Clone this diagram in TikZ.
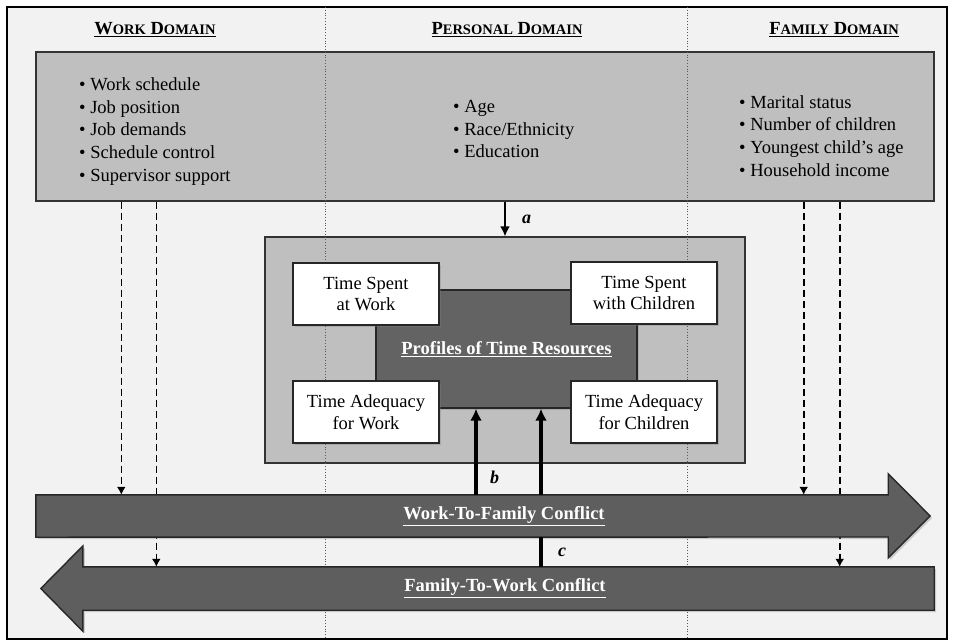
\documentclass[tikz,border=0pt]{standalone}
\usepackage{fontspec}
\setmainfont{Liberation Serif}
\usetikzlibrary{arrows.meta,shadows}

\newcommand{\domainhead}[4]{\textbf{\underline{#1{\fontsize{14.5}{14.5}\selectfont #2} #3{\fontsize{14.5}{14.5}\selectfont #4}}}}

\begin{document}
\begin{tikzpicture}[x=1pt,y=-1pt,
    every node/.style={font=\fontsize{18.5}{21.5}\selectfont},
    greybox/.style={draw=black!80, line width=1.4pt, fill=black!25},
    corebox/.style={draw=black!85, line width=1.4pt, fill=black!61, text=white,
                    drop shadow={opacity=0.35, shadow xshift=2pt, shadow yshift=-2pt}},
    timebox/.style={draw=black!85, line width=1.4pt, fill=white, align=center,
                    minimum width=146pt, minimum height=62pt,
                    drop shadow={opacity=0.35, shadow xshift=2pt, shadow yshift=-2pt}},
    factlist/.style={anchor=west, align=left, inner sep=0pt, font=\fontsize{18.5}{22.7}\selectfont},
    barbody/.style={inner sep=0pt},
    bararrow/.style={draw=black!85, line width=1.4pt, fill=black!63,
                     drop shadow={opacity=0.35, shadow xshift=2pt, shadow yshift=-2pt}},
    barlabel/.style={text=white, font=\fontsize{18.5}{21.5}\selectfont\bfseries},
    letter/.style={font=\fontsize{18}{18}\selectfont\bfseries\itshape},
    dashlink/.style={line width=1.6pt, dash pattern=on 7pt off 4pt, -{Latex[length=8pt,width=9pt]}},
    thinlink/.style={line width=1.6pt, -{Latex[length=10pt,width=10pt]}},
    thicklink/.style={line width=3.6pt, -{Latex[length=12pt,width=12pt]}},
    thickline/.style={line width=3.6pt}]

    \useasboundingbox (0,0) rectangle (953,640);
    \draw[line width=1.6pt, fill=black!5] (7,7) rectangle (947,639);

    \node[greybox, minimum width=898pt, minimum height=149pt] (domains) at (485,126.5) {};
    \node[greybox, minimum width=480pt, minimum height=226pt] (profiles) at (505,350) {};

    \draw[dotted, black!65, line width=0.8pt] (325,7) -- (325,639);
    \draw[dotted, black!65, line width=0.8pt] (687,7) -- (687,639);

    \node (workhead) at (155,30) {\domainhead{W}{ORK}{D}{OMAIN}};
    \node (personalhead) at (507,30) {\domainhead{P}{ERSONAL}{D}{OMAIN}};
    \node (familyhead) at (834,30) {\domainhead{F}{AMILY}{D}{OMAIN}};

    \node[factlist] (workfacts) at (79,131.5)
        {\textbullet\ Work schedule\\\textbullet\ Job position\\\textbullet\ Job demands\\
         \textbullet\ Schedule control\\\textbullet\ Supervisor support};
    \node[factlist] (personalfacts) at (453,129)
        {\textbullet\ Age\\\textbullet\ Race/Ethnicity\\\textbullet\ Education};
    \node[factlist] (familyfacts) at (739,136)
        {\textbullet\ Marital status\\\textbullet\ Number of children\\
         \textbullet\ Youngest child’s age\\\textbullet\ Household income};

    \node[corebox, minimum width=261pt, minimum height=118pt] (core) at (506.5,349)
        {\textbf{\underline{Profiles of Time Resources}}};

    \node[timebox] (spentwork) at (366,294) {Time Spent\\at Work};
    \node[timebox] (spentkids) at (644,293) {Time Spent\\with Children};
    \node[timebox] (adequacywork) at (366,412) {Time Adequacy\\for Work};
    \node[timebox] (adequacykids) at (644,412) {Time Adequacy\\for Children};

    \draw[thinlink] (domains.south -| profiles.north) -- node[right=13pt, letter] {a} (profiles.north);

    \node[barbody, minimum width=852pt, minimum height=42pt] (w2f) at (462,516) {};
    \node[barbody, minimum width=851pt, minimum height=43pt] (f2w) at (508.5,588.5) {};

    \draw[dashlink] ([xshift=86pt]domains.south west) -- ([xshift=86pt]domains.south west |- w2f.north);
    \draw[dashlink] ([xshift=121pt]domains.south west) -- ([xshift=121pt]domains.south west |- f2w.north);
    \draw[dashlink] ([xshift=-131pt]domains.south east) -- ([xshift=-131pt]domains.south east |- w2f.north);
    \draw[dashlink] ([xshift=-95pt]domains.south east) -- ([xshift=-95pt]domains.south east |- f2w.north);

    \path[bararrow] (w2f.south west) -- (w2f.north west) -- (w2f.north east) -- ++(0,-21)
        -- ([xshift=42pt]w2f.east) -- ++(-42,42) -- ++(0,-21) -- cycle;
    \path[bararrow] (f2w.north west) -- (f2w.north east) -- (f2w.south east) -- (f2w.south west)
        -- ++(0,21) -- ([xshift=-42pt]f2w.west) -- ++(42,-42.5) -- cycle;

    \node[barlabel] (w2flabel) at (504,516) {\underline{Work-To-Family Conflict}};
    \node[barlabel] (f2wlabel) at (505,588) {\underline{Family-To-Work Conflict}};

    \draw[thicklink] ([xshift=-30.5pt]core.south |- w2f.north) -- node[pos=0.2, right=9pt, letter] {b} ([xshift=-30.5pt]core.south);
    \draw[thicklink] ([xshift=34.5pt]core.south |- w2f.north) -- ([xshift=34.5pt]core.south);
    \draw[thickline] ([xshift=34.5pt]w2f.south -| core.south) -- node[right=12pt, letter] {c} ([xshift=34.5pt]f2w.north -| core.south);
\end{tikzpicture}
\end{document}
